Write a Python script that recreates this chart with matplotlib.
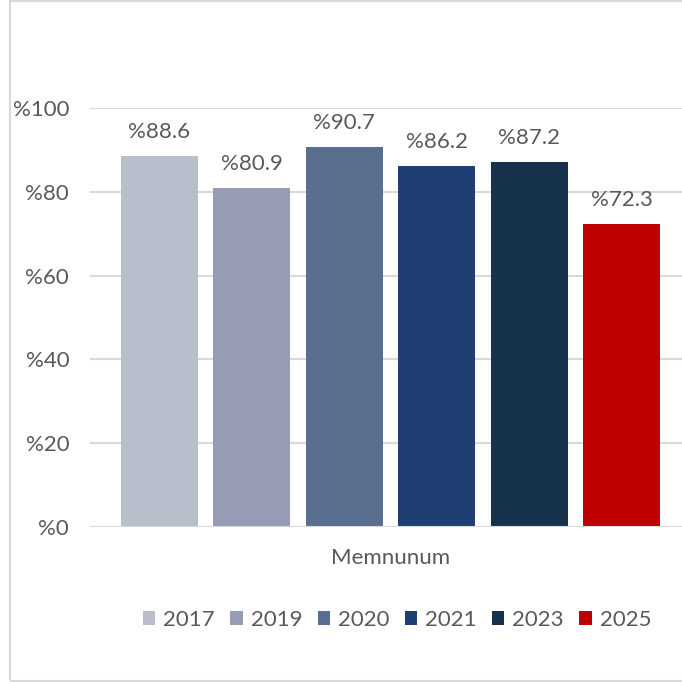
import matplotlib.pyplot as plt
from matplotlib.patches import Patch, Rectangle

plt.rcParams['font.family'] = ['Lato', 'DejaVu Sans']

category = 'Memnunum'
years = ['2017', '2019', '2020', '2021', '2023', '2025']
values = [88.6, 80.9, 90.7, 86.2, 87.2, 72.3]
colors = ['#B8BECC', '#979CB5', '#5A6E8F', '#1F3F73', '#17324D', '#C00000']
yticks = [0, 20, 40, 60, 80, 100]

txt = '#595959'
grid = '#D9D9D9'
fs = 16

fig = plt.figure(figsize=(6.82, 6.82), dpi=100)
# outer chart frame
fig.patches.append(Rectangle((10/682, 1/682), 1.0, 680/682, transform=fig.transFigure,
                             fill=False, edgecolor=grid, lw=1.5))

ax = fig.add_axes([90/682, 1 - 527/682, 601/682, 419/682])
n = len(values)
offsets = [i - (n - 1) / 2 for i in range(n)]
for off, v, c, y in zip(offsets, values, colors, years):
    ax.bar(off, v, width=0.832, color=c, label=y, zorder=3)
    ax.annotate('%' + f'{v:.1f}', (off, v), xytext=(0, 10), textcoords='offset points',
                ha='center', va='bottom', fontsize=fs, color=txt)

ax.set_xlim(-3.249, 3.249)
ax.set_ylim(0, 100)
ax.set_yticks(yticks, ['%' + str(t) for t in yticks])
ax.set_xticks([0], [category])
ax.yaxis.grid(True, color=grid, lw=1.5, zorder=0)
for s in ax.spines.values():
    s.set_visible(False)
ax.axhline(0, color=grid, lw=1.5, zorder=4)
ax.tick_params(axis='y', length=0, pad=15, labelsize=fs, labelcolor=txt)
ax.tick_params(axis='x', length=0, pad=15, labelsize=fs, labelcolor=txt)

handles = [Patch(facecolor=c, label=y) for c, y in zip(colors, years)]
fig.legend(handles=handles, loc='center', bbox_to_anchor=(397/682, 1 - 620/682), ncol=6,
           frameon=False, fontsize=fs, labelcolor=txt, handlelength=0.55, handleheight=0.55,
           handletextpad=0.36, columnspacing=0.7)

fig.savefig('out.png', dpi=100)
